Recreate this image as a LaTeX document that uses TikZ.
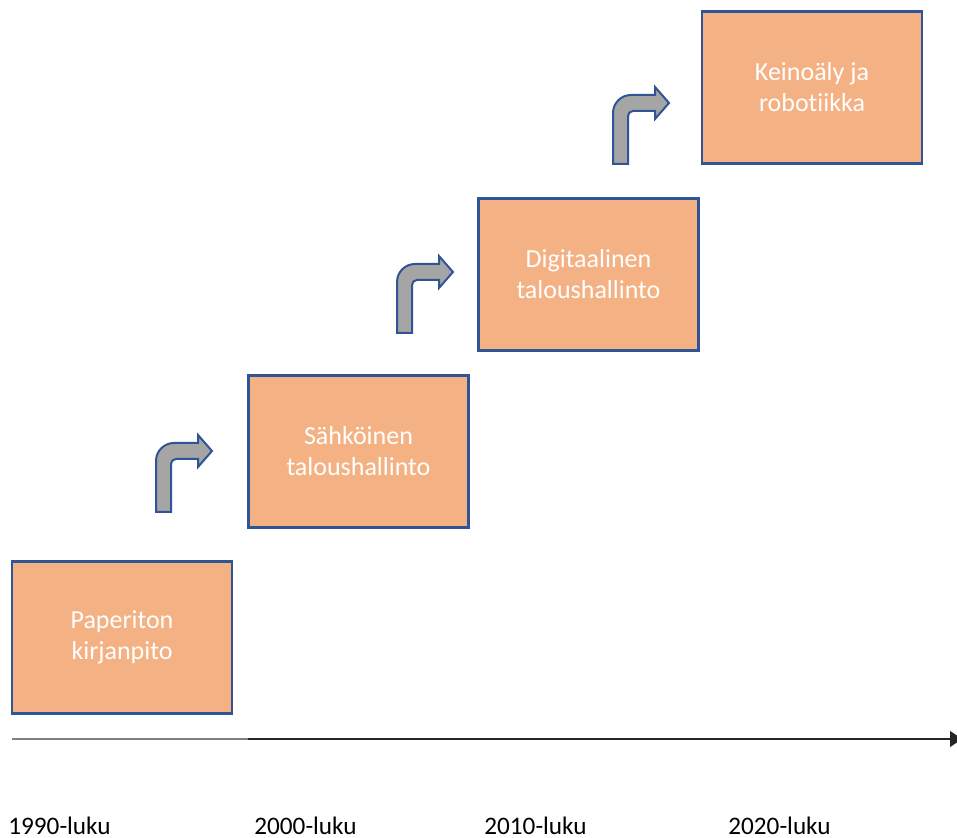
\documentclass[tikz,border=0pt]{standalone}
\usepackage{fontspec}
\setmainfont{Carlito}[Ligatures=NoCommon]
\usetikzlibrary{arrows.meta}

\definecolor{boxfill}{HTML}{F4B183}
\definecolor{boxline}{HTML}{2F5597}
\definecolor{arrowfill}{HTML}{A5A5A5}
\definecolor{axisgray}{HTML}{808080}
\definecolor{axisdark}{HTML}{262626}

\tikzset{
  stage/.style={draw=boxline, fill=boxfill, line width=1.1pt, text=white,
    align=center, inner sep=0pt, minimum width=110pt, minimum height=76pt,
    font=\fontsize{13pt}{15.5pt}\selectfont},
  turnarrow/.style={draw=boxline, fill=arrowfill, line width=1pt, line join=miter},
  yearlabel/.style={inner sep=0pt, anchor=base west,
    font=\fontsize{12.6pt}{14pt}\selectfont},
}

% bent "turn up-right" arrow: #1 = left edge of the stem, #2 = bottom of the stem
\newcommand\bentarrow[2]{%
  \draw[turnarrow] (#1,#2) -- (#1,#2-51)
    .. controls (#1,#2-60.94) and (#1+8.06,#2-69) .. (#1+18,#2-69)
    -- (#1+42,#2-69) -- (#1+42,#2-77) -- (#1+56,#2-61) -- (#1+42,#2-45)
    -- (#1+42,#2-53) -- (#1+20,#2-53)
    .. controls (#1+17.24,#2-53) and (#1+15,#2-50.76) .. (#1+15,#2-48)
    -- (#1+15,#2) -- cycle;}

\begin{document}
\begin{tikzpicture}[x=0.5pt, y=-0.5pt]
  \useasboundingbox (0,0) rectangle (957,838);

  % stages
  \node[stage] (s1) at (122,637.5) {Paperiton\\kirjanpito};
  \node[stage] (s2) at (358.5,451.5) {Sähköinen\\taloushallinto};
  \node[stage] (s3) at (588.5,274.5) {Digitaalinen\\taloushallinto};
  \node[stage] (s4) at (812,87.5) {Keinoäly ja\\robotiikka};

  % turn arrows between the stages
  \bentarrow{156}{512}
  \bentarrow{397}{333}
  \bentarrow{613}{164}

  % time axis
  \coordinate (a0) at (12,739);
  \coordinate (a1) at (248,739);
  \coordinate (a2) at (962,739);
  \draw[axisgray, line width=1.2pt] (a0) -- (a1);
  \draw[axisdark, line width=0.7pt, -{Triangle[length=6pt,width=8pt]}] (a1) -- (a2);

  % decades
  \node[yearlabel] (y1) at (8,834) {1990-luku};
  \node[yearlabel] (y2) at (254,834) {2000-luku};
  \node[yearlabel] (y3) at (484,834) {2010-luku};
  \node[yearlabel] (y4) at (728,834) {2020-luku};
\end{tikzpicture}
\end{document}
